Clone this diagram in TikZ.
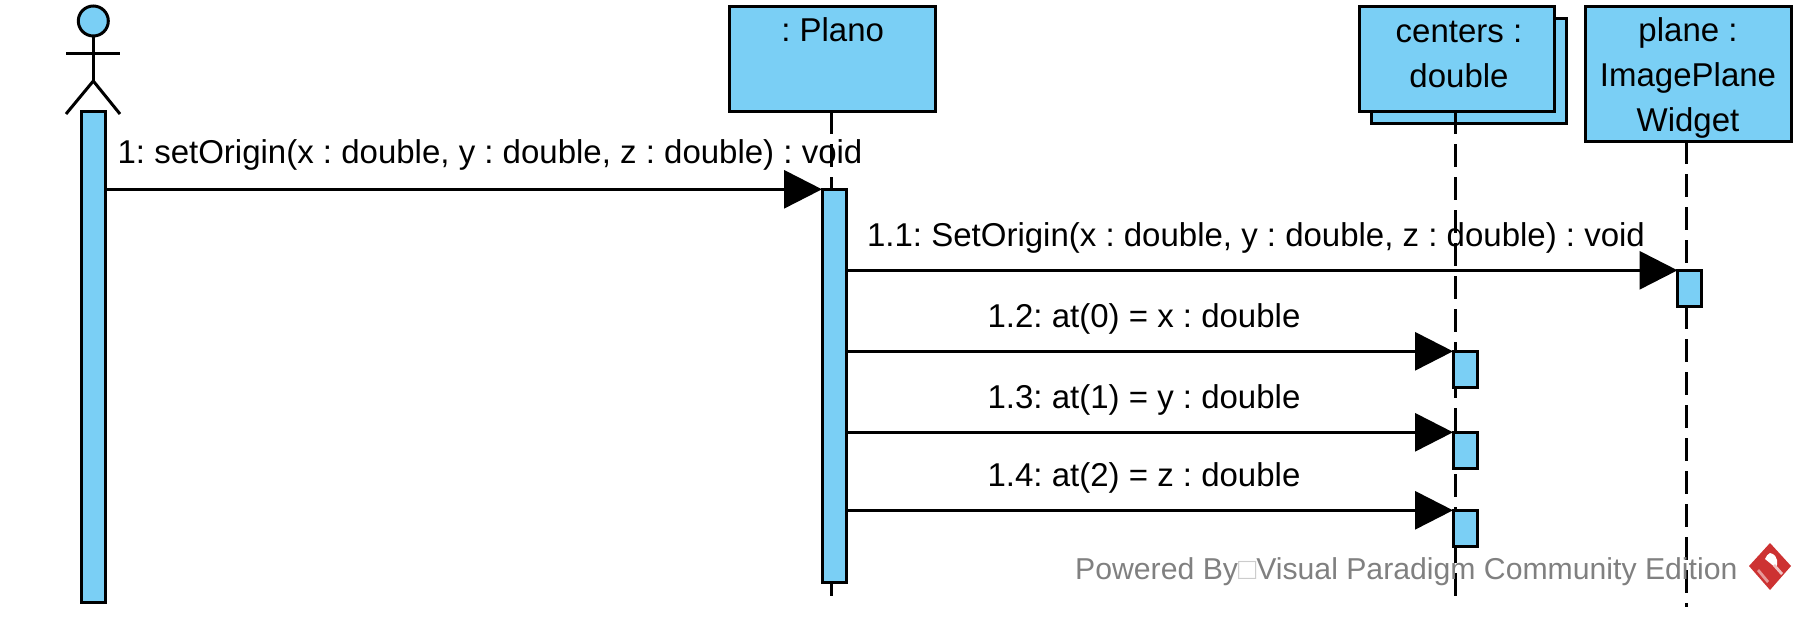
\documentclass[tikz,border=0pt]{standalone}
\usepackage{fontspec}
\setmainfont{Liberation Sans}
\frenchspacing
\usetikzlibrary{positioning}
\usetikzlibrary{arrows.meta}
\definecolor{vpblue}{RGB}{122,207,245}
\definecolor{vpred}{RGB}{205,50,50}
\tikzset{objBox/.style={rectangle,draw=black,fill=vpblue,line width=3pt,inner sep=0pt,outer sep=0pt}}
\tikzset{objText/.style={inner sep=0pt,align=center,font=\fontsize{33}{45}\selectfont}}
\tikzset{msgText/.style={inner sep=0pt,anchor=base,font=\fontsize{33}{45}\selectfont}}
\tikzset{barBox/.style={objBox,minimum width=24pt,anchor=north}}
\tikzset{lifeLine/.style={line width=3pt,dash pattern=on 23pt off 10pt}}
\tikzset{msgLine/.style={line width=3pt,-{Triangle[length=38pt,width=38pt]}}}
\begin{document}
\begin{tikzpicture}[x=1pt,y=-1pt]
	\useasboundingbox (0,0) rectangle (1806,618);
	% lifelines
	\node[objBox,minimum width=195pt,minimum height=105pt] (centersBack) at (1469,70.8) {};
	\node[objBox,minimum width=206pt,minimum height=105pt] (plano) at (832.7,58.8) {};
	\node[objBox,minimum width=195pt,minimum height=105pt] (centers) at (1457,58.8) {};
	\node[objBox,minimum width=206pt,minimum height=135pt] (plane) at (1688,73.8) {};
	\coordinate (planoEnd) at (831,597);
	\coordinate (centersEnd) at (1455,597);
	\coordinate (planeEnd) at (1686,607);
	\draw[lifeLine] (831,111) -- (planoEnd);
	\draw[lifeLine] (1455,111) -- (centersEnd);
	\draw[lifeLine] (1686,141) -- (planeEnd);
	% titles
	\node[objText,below=11.5pt of plano.north] (planoText) {: Plano};
	\node[objText,below=15pt of centers.north,xshift=2pt] (centersText) {centers :\\double};
	\node[objText,below=11.5pt of plane.north] (planeText) {plane :\\ImagePlane\\Widget};
	% actor
	\node[circle,draw=black,fill=vpblue,line width=3pt,minimum size=30pt,inner sep=0pt] (head) at (93.3,21) {};
	\coordinate (hip) at (93.3,81);
	\coordinate (armL) at (66,54);
	\coordinate (armR) at (120,54);
	\coordinate (legL) at (66,114);
	\coordinate (legR) at (120,114);
	\draw[line width=3pt] (head.south) -- (hip);
	\draw[line width=3pt] (armL) -- (armR);
	\draw[line width=3pt] (legL) -- (hip) -- (legR);
	% activations
	\node[barBox,minimum height=491pt] (actorBar) at (93.7,111.5) {};
	\node[barBox,minimum height=393pt] (planoBar) at (834,189.3) {};
	\node[barBox,minimum height=36pt] (planeBar) at (1689.5,270.3) {};
	\node[barBox,minimum height=36pt] (atBarA) at (1465,351.3) {};
	\node[barBox,minimum height=36pt] (atBarB) at (1465,432.3) {};
	\node[barBox,minimum height=36pt] (atBarC) at (1465,510.3) {};
	% messages
	\coordinate (startA) at (105.7,189.3);
	\coordinate (startB) at (846,270.3);
	\coordinate (startC) at (846,351.3);
	\coordinate (startD) at (846,432.3);
	\coordinate (startE) at (846,510.3);
	\draw[msgLine] (startA) -- (planoBar.north west);
	\draw[msgLine] (startB) -- (planeBar.north west);
	\draw[msgLine] (startC) -- (atBarA.north west);
	\draw[msgLine] (startD) -- (atBarB.north west);
	\draw[msgLine] (startE) -- (atBarC.north west);
	\node[msgText] (msgA) at (490,163) {1: setOrigin(x : double, y : double, z : double) : void};
	\node[msgText] (msgB) at (1256,246) {1.1: SetOrigin(x : double, y : double, z : double) : void};
	\node[msgText] (msgC) at (1144,327) {1.2: at(0) = x : double};
	\node[msgText] (msgD) at (1144,408) {1.3: at(1) = y : double};
	\node[msgText] (msgE) at (1144,486) {1.4: at(2) = z : double};
	% watermark
	\node[inner sep=0pt,anchor=base west,text=gray,font=\fontsize{30.2}{32}\selectfont] (powered) at (1075,579) {Powered By{\color{gray!40}□}Visual Paradigm Community Edition};
	\fill[vpred] (1770,543) -- (1791,566) -- (1770,590) -- (1749,566) -- cycle;
	\fill[white] (1770,553) .. controls (1779,555) and (1778,565) .. (1776,568) -- (1765,559) .. controls (1766,556) and (1768,554) .. (1770,553) -- cycle;
	\fill[vpred!30] (1773,566) -- (1775,564) -- (1783,573) -- (1781,575) -- cycle;
	\fill[vpred!50] (1757,571) -- (1759,569) -- (1769,581) -- (1767,583) -- cycle;
\end{tikzpicture}
\end{document}
